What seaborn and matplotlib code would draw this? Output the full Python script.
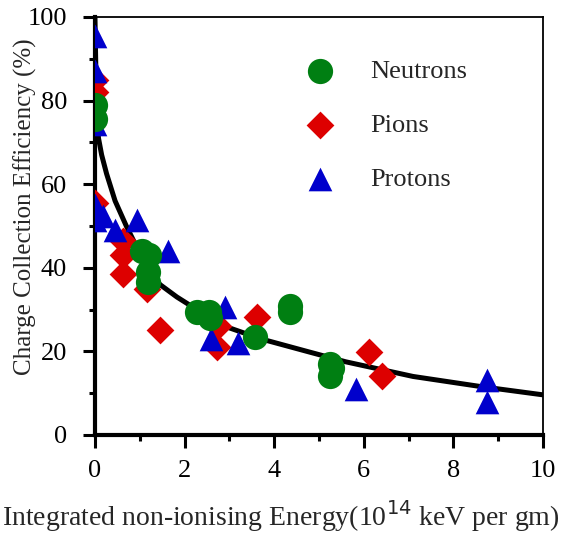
import matplotlib
matplotlib.use("agg")
import matplotlib.pyplot as plt
from matplotlib.ticker import MultipleLocator
import pandas as pd
import seaborn as sns

# values
neutron_x = [0, 0, 1.05, 1.2, 1.18, 1.18, 2.27, 2.55, 2.57, 3.57, 4.35, 4.35, 5.25, 5.3, 5.25]
neutron_y = [79, 75.5, 44, 43, 39, 36.6, 29.5, 29.5, 28, 23.5, 30.8, 29.5, 17, 16, 14]

pion_x = [0, 0, 0, 0.63, 0.63, 0.63, 1.16, 1.45, 2.75, 2.72, 3.62, 6.12, 6.4]
pion_y = [85, 82, 55.5, 46.5, 43, 38.5, 35, 25, 26, 21, 28.2, 19.9, 14.1]

proton_x = [0, 0, 0, 0, 0, 0.18, 0.45, 0.94, 1.63, 2.6, 2.9, 3.2, 5.83, 8.75, 8.75]
proton_y = [95.5, 87, 74.5, 55, 51.5, 52.5, 49, 51.5, 44, 23, 30.5, 22, 11, 13.2, 7.8]

fit_x = [0, 0.02, 0.04, 0.08, 0.15, 0.26, 0.45, 0.7, 1.0, 1.45, 1.83, 2.2, 2.9,
         3.7, 4.8, 5.6, 7.1, 8.6, 10]
fit_y = [100, 88, 76, 71, 67, 62.5, 56, 50, 43.5, 36, 33, 30.5, 26, 23, 19.8,
         17.5, 14, 11.6, 9.6]

groups = ["Neutrons", "Pions", "Protons"]
colors = {"Neutrons": "#007f12", "Pions": "#dd0000", "Protons": "#0000cc"}
markers = {"Neutrons": "o", "Pions": "D", "Protons": "^"}
msize = {"Neutrons": 330, "Pions": 200, "Protons": 290}

df = pd.concat([
    pd.DataFrame({"x": neutron_x, "y": neutron_y, "kind": "Neutrons"}),
    pd.DataFrame({"x": pion_x, "y": pion_y, "kind": "Pions"}),
    pd.DataFrame({"x": proton_x, "y": proton_y, "kind": "Protons"}),
])
fit = pd.DataFrame({"x": fit_x, "y": fit_y})

sns.set_style("ticks")
plt.rcParams["font.family"] = ["Liberation Serif", "DejaVu Serif"]

fig = plt.figure(figsize=(5.65, 5.38), dpi=100)
ax = fig.add_axes([0.168, 0.1915, 0.793, 0.777])

sns.lineplot(data=fit, x="x", y="y", color="black", lw=3.6, ax=ax, zorder=1)

for g in ["Pions", "Protons", "Neutrons"]:
    sub = df[df["kind"] == g]
    sns.scatterplot(data=sub, x="x", y="y", marker=markers[g], s=msize[g],
                    color=colors[g], linewidth=0, ax=ax, zorder=3, label=g)

h, l = ax.get_legend_handles_labels()
order = [l.index(g) for g in groups]
ax.legend([h[i] for i in order], groups, loc="upper left",
          bbox_to_anchor=(0.39, 0.955), frameon=False, fontsize=19,
          labelspacing=1.15, handlelength=2, handletextpad=0.9, markerscale=1.0)

ax.set_xlim(0, 10)
ax.set_ylim(0, 100)
ax.xaxis.set_major_locator(MultipleLocator(2))
ax.xaxis.set_minor_locator(MultipleLocator(1))
ax.yaxis.set_major_locator(MultipleLocator(20))
ax.yaxis.set_minor_locator(MultipleLocator(10))
ax.tick_params(which="major", direction="out", length=9, width=2.2,
               labelsize=19, color="black", labelcolor="black", pad=9)
ax.tick_params(axis="y", which="major", pad=11)
ax.tick_params(which="minor", direction="out", length=4, width=2.2, color="black")

for side in ["left", "bottom"]:
    ax.spines[side].set_linewidth(3)
for side in ["top", "right"]:
    ax.spines[side].set_visible(True)
    ax.spines[side].set_linewidth(1.3)
for sp in ax.spines.values():
    sp.set_color("black")

ax.set_xlabel("Integrated non-ionising Energy(10$^{14}$ keV per gm)", fontsize=20)
ax.xaxis.set_label_coords(0.415, -0.15)
ax.set_ylabel("Charge Collection Efficiency (%)", fontsize=18)
ax.yaxis.set_label_coords(-0.13, 0.545)

fig.savefig("out.png", dpi=100)
